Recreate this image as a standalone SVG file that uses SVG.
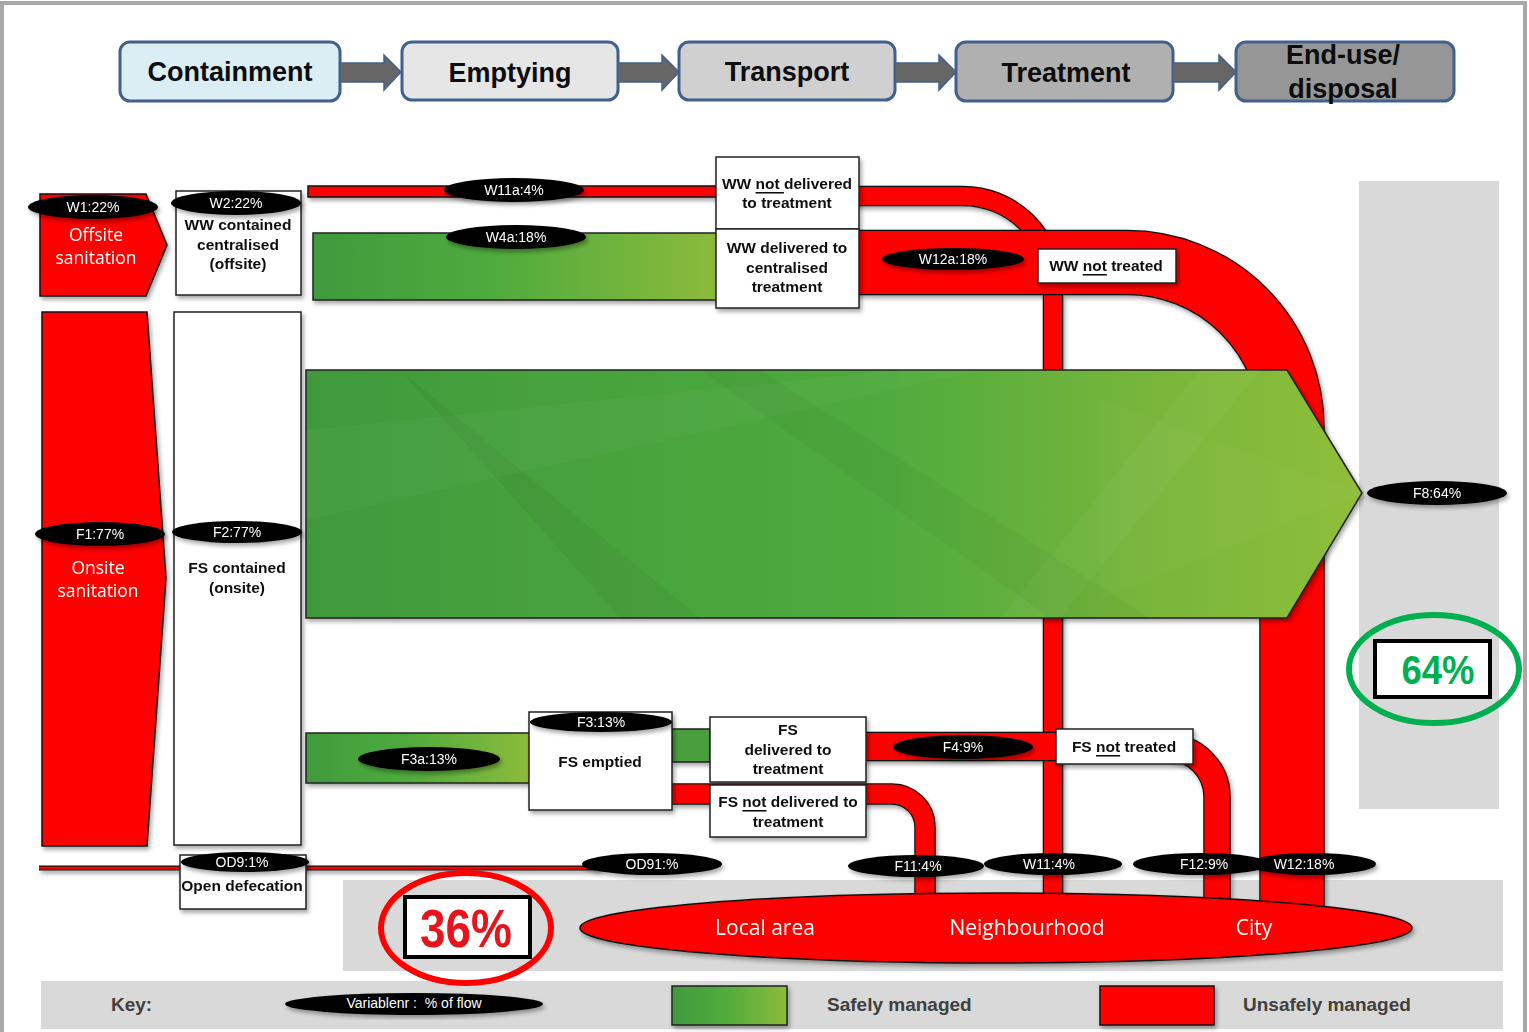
<svg xmlns="http://www.w3.org/2000/svg" width="1529" height="1032" viewBox="0 0 1529 1032">
<defs>
<style>
.hdr{stroke:#41618c;stroke-width:3}
.ht{font-family:"Liberation Sans",Arial,sans-serif;font-weight:bold;font-size:27px;fill:#0d0d0d;text-anchor:middle;dominant-baseline:central}
.arr{fill:#666;stroke:#41618c;stroke-width:1.5}
.box{fill:#fff;stroke:#222;stroke-width:1.5}
.bt{font-family:"Liberation Sans",Arial,sans-serif;font-weight:bold;font-size:15.5px;fill:#111;text-anchor:middle;dominant-baseline:central}
.red{fill:#ff0000;stroke:#111;stroke-width:1.5}
.grn{stroke:#222;stroke-width:1.5}
.lab{fill:#000}
.lt{font-family:"Liberation Sans",Arial,sans-serif;font-size:14px;fill:#fff;text-anchor:middle;dominant-baseline:central}
.wt{font-family:"Open Sans","Liberation Sans",sans-serif;font-size:17.5px;fill:#fff;text-anchor:middle;dominant-baseline:central}
.bw{font-family:"Open Sans","Liberation Sans",sans-serif;font-size:21px;fill:#fff;text-anchor:middle;dominant-baseline:central}
.kt{font-family:"Liberation Sans",Arial,sans-serif;font-weight:bold;font-size:19px;fill:#404040;dominant-baseline:central}
.panel{fill:#d9d9d9}
.u{text-decoration:underline}
</style>
<filter id="sh" x="-10%" y="-10%" width="125%" height="130%">
<feDropShadow dx="2" dy="3" stdDeviation="2" flood-color="#000" flood-opacity="0.35"/>
</filter>
<linearGradient id="gBig" gradientUnits="userSpaceOnUse" x1="306" y1="0" x2="1362" y2="0">
<stop offset="0" stop-color="#409a3d"/>
<stop offset="0.55" stop-color="#4fab3e"/>
<stop offset="0.8" stop-color="#78b63a"/>
<stop offset="1" stop-color="#8fbe3a"/>
</linearGradient>
<linearGradient id="gBar" x1="0" y1="0" x2="1" y2="0">
<stop offset="0" stop-color="#409a3d"/>
<stop offset="0.45" stop-color="#4fab3e"/>
<stop offset="1" stop-color="#8cbb3a"/>
</linearGradient>
<clipPath id="cBig"><polygon points="306,370 1287,370 1362,493 1287,618 306,618"/></clipPath>
</defs>

<rect x="0" y="0" width="1529" height="1032" fill="#fff"/>
<rect x="2" y="3" width="1523" height="1040" fill="none" stroke="#a8a8a8" stroke-width="4"/>

<g id="panels">
<rect class="panel" x="1359" y="181" width="140" height="628"/>
<rect class="panel" x="343" y="880" width="1160" height="91"/>
<rect class="panel" x="41" y="981" width="1462" height="48"/>
</g>

<g id="header">
<g id="h-containment"><rect class="hdr" x="120" y="42" width="220" height="59" rx="10" fill="#dbeef4"/><text class="ht" x="230" y="72">Containment</text></g>
<g id="h-emptying"><rect class="hdr" x="402" y="42" width="216" height="58" rx="10" fill="#e6e6e6"/><text class="ht" x="510" y="73">Emptying</text></g>
<g id="h-transport"><rect class="hdr" x="679" y="42" width="216" height="58" rx="10" fill="#d0d0d0"/><text class="ht" x="787" y="72">Transport</text></g>
<g id="h-treatment"><rect class="hdr" x="956" y="42" width="217" height="59" rx="10" fill="#b0b0b0"/><text class="ht" x="1066" y="73">Treatment</text></g>
<g id="h-enduse"><rect class="hdr" x="1236" y="42" width="218" height="59" rx="10" fill="#969696"/><text class="ht" x="1343" y="55">End-use/</text><text class="ht" x="1343" y="89">disposal</text></g>
</g>

<g id="connectors">
<g id="header-arrows">
<polygon class="arr" points="340,63 384,63 384,55 401,72 384,90 384,82 340,82"/>
<polygon class="arr" points="618,63 662,63 662,55 679,72 662,90 662,82 618,82"/>
<polygon class="arr" points="895,63 939,63 939,55 956,72 939,90 939,82 895,82"/>
<polygon class="arr" points="1173,63 1219,63 1219,55 1236,72 1219,90 1219,82 1173,82"/>
</g>
<g id="red-flows" filter="url(#sh)" fill="none">
<line x1="39" y1="868" x2="600" y2="868" stroke="#111" stroke-width="5"/>
<line x1="39" y1="868" x2="600" y2="868" stroke="#ff0000" stroke-width="2.5"/>
<rect class="red" x="308" y="186" width="410" height="11"/>
<path d="M855 196 H963 A90 90 0 0 1 1053 286 V910" stroke="#111" stroke-width="20.5"/>
<path d="M855 196 H963 A90 90 0 0 1 1053 286 V910" stroke="#ff0000" stroke-width="18"/>
<path d="M855 262.5 H1127 A165 165 0 0 1 1292 427.5 V915" stroke="#111" stroke-width="65.5"/>
<path d="M855 262.5 H1127 A165 165 0 0 1 1292 427.5 V915" stroke="#ff0000" stroke-width="63"/>
<path d="M672 794 H892 A33 33 0 0 1 925 827 V905" stroke="#111" stroke-width="21.5"/>
<path d="M672 794 H892 A33 33 0 0 1 925 827 V905" stroke="#ff0000" stroke-width="19"/>
<path d="M862 746.5 H1060" stroke="#111" stroke-width="29.5"/>
<path d="M862 746.5 H1060" stroke="#ff0000" stroke-width="27"/>
<path d="M1167 747 A50 50 0 0 1 1217 797 V915" stroke="#111" stroke-width="27.5"/>
<path d="M1167 747 A50 50 0 0 1 1217 797 V915" stroke="#ff0000" stroke-width="25"/>
</g>
<g id="green-flows" filter="url(#sh)">
<rect class="grn" x="313" y="233" width="405" height="67" fill="url(#gBar)"/>
<rect class="grn" x="306" y="733" width="224" height="50" fill="url(#gBar)"/>
<rect class="grn" x="672" y="729" width="38" height="33" fill="#4a9f3d"/>
<polygon class="grn" points="306,370 1287,370 1362,493 1287,618 306,618" fill="url(#gBig)"/>
</g>
<g id="facets" clip-path="url(#cBig)">
<polygon points="400,370 620,618 700,618" fill="#000" opacity="0.04"/>
<polygon points="306,430 900,370 980,370 306,520" fill="#fff" opacity="0.03"/>
<polygon points="700,370 1050,618 1150,618 760,370" fill="#000" opacity="0.03"/>
<polygon points="1000,618 1200,370 1260,370 1060,618" fill="#fff" opacity="0.03"/>
<polygon points="1100,400 1362,493 1100,600" fill="#fff" opacity="0.025"/>
</g>
</g>

<g id="n-offsite" filter="url(#sh)">
<polygon class="red" points="40,194 146,194 167,245 146,296 40,296"/>
<text class="wt" x="96" y="234">Offsite</text>
<text class="wt" x="96" y="257">sanitation</text>
</g>
<g id="n-onsite" filter="url(#sh)">
<polygon class="red" points="42,312 147,312 166,578 147,846 42,846"/>
<text class="wt" x="98" y="567">Onsite</text>
<text class="wt" x="98" y="590">sanitation</text>
</g>
<g id="n-ww-contained" filter="url(#sh)">
<rect class="box" x="176" y="191" width="125" height="104"/>
<text class="bt" x="238" y="224">WW contained</text>
<text class="bt" x="238" y="244">centralised</text>
<text class="bt" x="238" y="263">(offsite)</text>
</g>
<g id="n-fs-contained" filter="url(#sh)">
<rect class="box" x="174" y="312" width="127" height="533"/>
<text class="bt" x="237" y="567">FS contained</text>
<text class="bt" x="237" y="587">(onsite)</text>
</g>
<g id="n-ww-not-delivered" filter="url(#sh)">
<rect class="box" x="716" y="157" width="143" height="72"/>
<text class="bt" x="787" y="183">WW <tspan class="u">not </tspan>delivered</text>
<text class="bt" x="787" y="202">to treatment</text>
</g>
<g id="n-ww-delivered" filter="url(#sh)">
<rect class="box" x="716" y="229" width="143" height="79"/>
<text class="bt" x="787" y="247">WW delivered to</text>
<text class="bt" x="787" y="267">centralised</text>
<text class="bt" x="787" y="286">treatment</text>
</g>
<g id="n-ww-not-treated" filter="url(#sh)">
<rect class="box" x="1038" y="249" width="138" height="34"/>
<text class="bt" x="1106" y="265">WW <tspan class="u">not</tspan> treated</text>
</g>
<g id="n-fs-emptied" filter="url(#sh)">
<rect class="box" x="529" y="712" width="143" height="98"/>
<text class="bt" x="600" y="761">FS emptied</text>
</g>
<g id="n-fs-delivered" filter="url(#sh)">
<rect class="box" x="710" y="717" width="156" height="65"/>
<text class="bt" x="788" y="729">FS</text>
<text class="bt" x="788" y="749">delivered to</text>
<text class="bt" x="788" y="768">treatment</text>
</g>
<g id="n-fs-not-delivered" filter="url(#sh)">
<rect class="box" x="710" y="785" width="156" height="52"/>
<text class="bt" x="788" y="801">FS <tspan class="u">not</tspan> delivered to</text>
<text class="bt" x="788" y="821">treatment</text>
</g>
<g id="n-fs-not-treated" filter="url(#sh)">
<rect class="box" x="1056" y="729" width="137" height="35"/>
<text class="bt" x="1124" y="746">FS <tspan class="u">not</tspan> treated</text>
</g>
<g id="n-open-defecation" filter="url(#sh)">
<rect class="box" x="180" y="855" width="126" height="54"/>
<text class="bt" x="242" y="885">Open defecation</text>
</g>

<g id="n-destinations" filter="url(#sh)">
<ellipse class="red" cx="996" cy="928" rx="416" ry="35"/>
<text class="bw" x="765" y="927">Local area</text>
<text class="bw" x="1027" y="927">Neighbourhood</text>
<text class="bw" x="1254" y="927">City</text>
</g>

<g id="labels" filter="url(#sh)">
<g><ellipse class="lab" cx="93" cy="207" rx="65" ry="12"/><text class="lt" x="93" y="207">W1:22%</text></g>
<g><ellipse class="lab" cx="236" cy="203" rx="65" ry="12"/><text class="lt" x="236" y="203">W2:22%</text></g>
<g><ellipse class="lab" cx="514" cy="190" rx="70" ry="12"/><text class="lt" x="514" y="190">W11a:4%</text></g>
<g><ellipse class="lab" cx="516" cy="237" rx="70" ry="12"/><text class="lt" x="516" y="237">W4a:18%</text></g>
<g><ellipse class="lab" cx="953" cy="259" rx="71" ry="11"/><text class="lt" x="953" y="259">W12a:18%</text></g>
<g><ellipse class="lab" cx="100" cy="534" rx="65" ry="12"/><text class="lt" x="100" y="534">F1:77%</text></g>
<g><ellipse class="lab" cx="237" cy="532" rx="65" ry="11"/><text class="lt" x="237" y="532">F2:77%</text></g>
<g><ellipse class="lab" cx="1437" cy="493" rx="70" ry="12"/><text class="lt" x="1437" y="493">F8:64%</text></g>
<g><ellipse class="lab" cx="601" cy="722" rx="71" ry="10"/><text class="lt" x="601" y="722">F3:13%</text></g>
<g><ellipse class="lab" cx="429" cy="759" rx="71" ry="12"/><text class="lt" x="429" y="759">F3a:13%</text></g>
<g><ellipse class="lab" cx="963" cy="747" rx="70" ry="12"/><text class="lt" x="963" y="747">F4:9%</text></g>
<g><ellipse class="lab" cx="245" cy="862" rx="64" ry="10"/><text class="lt" x="242" y="862">OD9:1%</text></g>
<g><ellipse class="lab" cx="652" cy="864" rx="70" ry="11"/><text class="lt" x="652" y="864">OD91:%</text></g>
<g><ellipse class="lab" cx="916" cy="866" rx="68" ry="11"/><text class="lt" x="918" y="866">F11:4%</text></g>
<g><ellipse class="lab" cx="1053" cy="864" rx="69" ry="11"/><text class="lt" x="1049" y="864">W11:4%</text></g>
<g><ellipse class="lab" cx="1201" cy="864" rx="68" ry="11"/><text class="lt" x="1204" y="864">F12:9%</text></g>
<g><ellipse class="lab" cx="1312" cy="864" rx="64" ry="11"/><text class="lt" x="1304" y="864">W12:18%</text></g>
</g>

<g id="n-pct-64">
<rect x="1375" y="641" width="115" height="56" fill="#fff" stroke="#000" stroke-width="4"/>
<text x="1438" y="670" font-family="'Liberation Sans',Arial,sans-serif" font-weight="bold" font-size="40" fill="#00b050" text-anchor="middle" dominant-baseline="central" textLength="73" lengthAdjust="spacingAndGlyphs">64%</text>
<ellipse cx="1434" cy="669" rx="85" ry="54" fill="none" stroke="#00b050" stroke-width="6"/>
</g>
<g id="n-pct-36">
<rect x="405" y="897" width="125" height="60" fill="#fff" stroke="#000" stroke-width="4"/>
<text x="466" y="928" font-family="'Liberation Sans',Arial,sans-serif" font-weight="bold" font-size="54" fill="#e8141b" text-anchor="middle" dominant-baseline="central" textLength="92" lengthAdjust="spacingAndGlyphs">36%</text>
<ellipse cx="466" cy="928" rx="85" ry="55" fill="none" stroke="#ff0000" stroke-width="6"/>
</g>

<g id="key">
<text class="kt" x="111" y="1004">Key:</text>
<g filter="url(#sh)"><ellipse class="lab" cx="414" cy="1004" rx="129" ry="11"/></g>
<text class="lt" x="414" y="1003" font-size="14.5">Variablenr :&#160; % of flow</text>
<rect class="grn" x="672" y="986" width="115" height="39" fill="url(#gBar)" filter="url(#sh)"/>
<text class="kt" x="827" y="1004">Safely managed</text>
<rect class="red" x="1100" y="986" width="114" height="39" filter="url(#sh)"/>
<text class="kt" x="1243" y="1004">Unsafely managed</text>
</g>
</svg>
